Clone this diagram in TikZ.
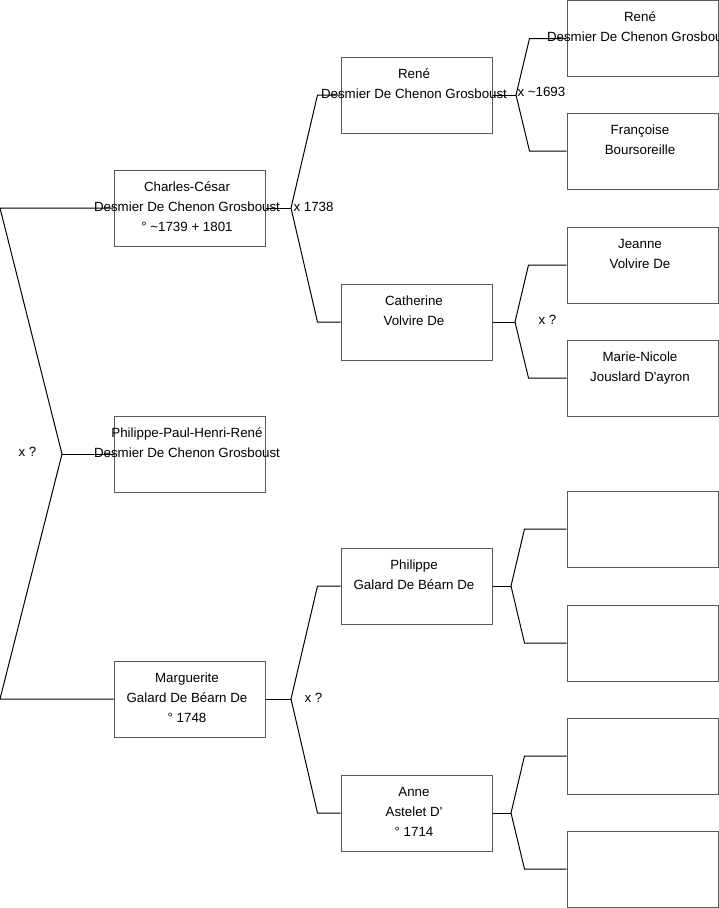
\documentclass[tikz,border=0pt]{standalone}
\usepackage{fontspec}
\setmainfont{Liberation Sans}
\usetikzlibrary{positioning,calc}
\definecolor{BoxGray}{HTML}{5A5A5A}
\newcommand{\oneline}[1]{\makebox[0pt]{#1\hspace{5pt}}}
\newcommand{\threelines}[3]{\oneline{#1}\\\oneline{#2}\\\oneline{#3}\rule[-3pt]{0pt}{3pt}}

\begin{document}
\begin{tikzpicture}[x=1pt,y=-1pt,font=\fontsize{13.33}{20}\selectfont,line width=1pt,
  person/.style={draw=BoxGray,minimum width=151pt,minimum height=76pt,inner sep=0pt,align=center},
  wedlock/.style={anchor=west,inner sep=0pt}]
\path[use as bounding box] (0,0) rectangle (719,908);
\clip (0,0) rectangle (719,908);
\coordinate (o) at (0,0);
% kind
\node[person] (p0) at (189.5,454) {\threelines{Philippe-Paul-Henri-René}{Desmier De Chenon Grosboust}{}};
% ouders
\node[person] (c1) at (189.5,208) {\threelines{Charles-César}{Desmier De Chenon Grosboust}{° \textasciitilde1739 + 1801}};
\node[person] (m1) at (189.5,699) {\threelines{Marguerite}{Galard De Béarn De}{° 1748}};
% grootouders
\node[person] (r1) at (416.5,95) {\threelines{René}{Desmier De Chenon Grosboust}{}};
\node[person] (r2) at (416.5,322) {\threelines{Catherine}{Volvire De}{}};
\node[person] (r3) at (416.5,586) {\threelines{Philippe}{Galard De Béarn De}{}};
\node[person] (r4) at (416.5,813) {\threelines{Anne}{Astelet D\textquotesingle}{° 1714}};
% overgrootouders
\node[person] (s1) at (642.5,38.5) {\threelines{René}{Desmier De Chenon Grosboust}{}};
\node[person] (s2) at (642.5,151) {\threelines{Françoise}{Boursoreille}{}};
\node[person] (s3) at (642.5,265) {\threelines{Jeanne}{Volvire De}{}};
\node[person] (s4) at (642.5,378) {\threelines{Marie-Nicole}{Jouslard D\textquotesingle ayron}{}};
\node[person] (s5) at (642.5,529) {};
\node[person] (s6) at (642.5,643) {};
\node[person] (s7) at (642.5,756) {};
\node[person] (s8) at (642.5,869) {};
% vorken
\coordinate (f0) at (62,454);
\coordinate (f1) at (291,208);
\coordinate (f2) at (291,699);
\coordinate (f3) at (516,95);
\coordinate (f4) at (515,322);
\coordinate (f5) at (511,586);
\coordinate (f6) at (511,813);
\draw (c1.west) -- (c1.west -| o) -- (f0) -- (m1.west -| o) -- (m1.west);
\draw (f0) -- (p0.west);
\draw (c1.east) -- (f1);
\draw (r1.west) -- ([xshift=-23pt]r1.west) -- (f1) -- ([xshift=-23pt]r2.west) -- (r2.west);
\draw (m1.east) -- (f2);
\draw (r3.west) -- ([xshift=-23pt]r3.west) -- (f2) -- ([xshift=-23pt]r4.west) -- (r4.west);
\draw (r1.east) -- (f3);
\draw (s1.west) -- ([xshift=-37pt]s1.west) -- (f3) -- ([xshift=-37pt]s2.west) -- (s2.west);
\draw (r2.east) -- (f4);
\draw (s3.west) -- ([xshift=-38pt]s3.west) -- (f4) -- ([xshift=-38pt]s4.west) -- (s4.west);
\draw (r3.east) -- (f5);
\draw (s5.west) -- ([xshift=-42pt]s5.west) -- (f5) -- ([xshift=-42pt]s6.west) -- (s6.west);
\draw (r4.east) -- (f6);
\draw (s7.west) -- ([xshift=-42pt]s7.west) -- (f6) -- ([xshift=-42pt]s8.west) -- (s8.west);
% huwelijken
\node[wedlock] (x0) at ([xshift=-44pt,yshift=2pt]f0) {x ?};
\node[wedlock] (x1) at ([xshift=2pt,yshift=1pt]f1) {x 1738};
\node[wedlock] (x2) at ([xshift=13pt,yshift=1pt]f2) {x ?};
\node[wedlock] (x3) at ([xshift=1pt,yshift=3pt]f3) {x \textasciitilde1693};
\node[wedlock] (x4) at ([xshift=23pt,yshift=2pt]f4) {x ?};
\end{tikzpicture}
\end{document}
